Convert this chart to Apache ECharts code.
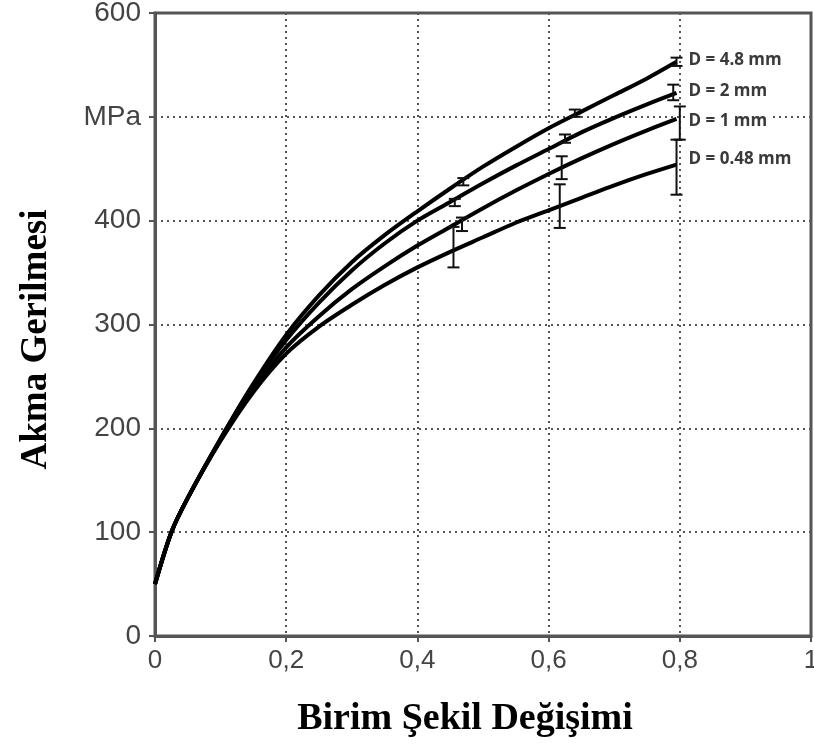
<!DOCTYPE html>
<html>
<head>
<meta charset="utf-8">
<script src="https://cdn.jsdelivr.net/npm/echarts@6/dist/echarts.min.js"></script>
<style>
  html, body { margin: 0; padding: 0; background: #fff; }
  #chart { width: 814px; height: 756px; }
</style>
</head>
<body>
<div id="chart"></div>
<script>
// Strain values shared by all four flow curves
const strain = [0, 0.025, 0.05, 0.1, 0.15, 0.2, 0.25, 0.3, 0.35, 0.4, 0.45, 0.5,
                0.55, 0.6, 0.65, 0.7, 0.75, 0.795];

// Yield stress (MPa) for each grain diameter
const stressD48 = [50, 100, 133, 190, 243, 290, 328, 360, 386, 409, 431, 452, 471, 489, 505, 521, 537, 553];
const stressD2 = [50, 100, 133, 190, 242, 285, 321, 352, 378, 400, 418, 436, 453, 469, 485, 499, 512, 523];
const stressD1 = [50, 100, 133, 189, 238, 278, 308, 334, 356, 376, 394, 412, 429, 445, 460, 474, 487, 498];
const stressD048 = [50, 100, 133, 188, 235, 272, 298, 319, 338, 355, 370, 384, 398, 410, 422, 434, 445, 454];

// Scatter bands: [strain, lower, upper]
const barsD48 = [[0.47, 434, 441], [0.64, 500, 507], [0.795, 549, 557]];
const barsD2 = [[0.457, 414, 421], [0.625, 475, 483], [0.79, 516, 531]];
const barsD1 = [[0.468, 390, 403], [0.62, 440, 462], [0.80, 478, 510]];
const barsD048 = [[0.455, 355, 394], [0.617, 393, 435], [0.795, 425, 478]];

const seriesNames = ['D = 4.8 mm', 'D = 2 mm', 'D = 1 mm', 'D = 0.48 mm'];
const xTicks = ['0', '0,2', '0,4', '0,6', '0,8', '1'];
const yTicks = ['0', '100', '200', '300', '400', 'MPa', '600'];

const curves = [stressD48, stressD2, stressD1, stressD048];
const bands = [barsD48, barsD2, barsD1, barsD048];
// vertical nudge of each curve's end label
const labelShift = [-2, -2, 2, -5];

const chart = echarts.init(document.getElementById('chart'));

function lineSeries(name, values, dy) {
  return {
    name: name,
    type: 'line',
    smooth: 0.3,
    symbol: 'none',
    data: strain.map((x, i) => [x, values[i]]),
    lineStyle: { color: '#000', width: 4 },
    endLabel: {
      show: true,
      formatter: '{a}',
      offset: [2, dy],
      color: '#3a3a3a',
      fontFamily: 'Open Sans',
      fontWeight: 'bold',
      fontSize: 17,
      backgroundColor: '#fff',
      padding: [0, 2]
    },
    z: 3
  };
}

function barSeries(data) {
  return {
    type: 'custom',
    data: data,
    renderItem: function (params, api) {
      const x = api.value(0);
      const lo = api.coord([x, api.value(1)]);
      const hi = api.coord([x, api.value(2)]);
      const cap = 6;
      const style = { stroke: '#111', lineWidth: 2 };
      return {
        type: 'group',
        children: [
          { type: 'line', shape: { x1: lo[0], y1: lo[1], x2: hi[0], y2: hi[1] }, style: style },
          { type: 'line', shape: { x1: lo[0] - cap, y1: lo[1], x2: lo[0] + cap, y2: lo[1] }, style: style },
          { type: 'line', shape: { x1: hi[0] - cap, y1: hi[1], x2: hi[0] + cap, y2: hi[1] }, style: style }
        ]
      };
    },
    z: 4
  };
}

const series = [];
curves.forEach((c, i) => series.push(lineSeries(seriesNames[i], c, labelShift[i])));
bands.forEach(b => series.push(barSeries(b)));

chart.setOption({
  animation: false,
  backgroundColor: '#fff',
  grid: {
    left: 155, right: 3, top: 13, bottom: 120,
    outerBoundsMode: 'none',
    containLabel: false,
    show: true, borderColor: '#555', borderWidth: 3
  },
  xAxis: {
    type: 'value',
    min: 0, max: 1, interval: 0.2,
    name: 'Birim Şekil Değişimi',
    nameLocation: 'middle',
    nameGap: 64,
    nameTextStyle: {
      fontFamily: 'Liberation Serif', fontWeight: 'bold', fontSize: 38, color: '#000',
      padding: [0, 36, 0, 0]
    },
    axisLine: { show: true, lineStyle: { color: '#555', width: 3 } },
    axisTick: { show: true, length: 6, lineStyle: { color: '#555', width: 2 } },
    axisLabel: {
      color: '#444', fontFamily: 'Liberation Sans', fontSize: 26, margin: 12,
      formatter: function (v) { return xTicks[Math.round(v / 0.2)]; }
    },
    splitLine: { show: true, lineStyle: { color: '#555', width: 2, type: [2, 4] } }
  },
  yAxis: {
    type: 'value',
    min: 0, max: 600, interval: 100,
    name: 'Akma Gerilmesi',
    nameLocation: 'middle',
    nameGap: 100,
    nameRotate: 90,
    nameTextStyle: {
      fontFamily: 'Liberation Serif', fontWeight: 'bold', fontSize: 37, color: '#000',
      padding: [0, 30, 0, 0]
    },
    axisLine: { show: true, lineStyle: { color: '#555', width: 3 } },
    axisTick: { show: true, length: 6, lineStyle: { color: '#555', width: 2 } },
    axisLabel: {
      color: '#444', fontFamily: 'Liberation Sans', fontSize: 28, margin: 14,
      formatter: function (v) { return yTicks[Math.round(v / 100)]; }
    },
    splitLine: { show: true, lineStyle: { color: '#555', width: 2, type: [2, 4] } }
  },
  series: series
});
</script>
</body>
</html>
